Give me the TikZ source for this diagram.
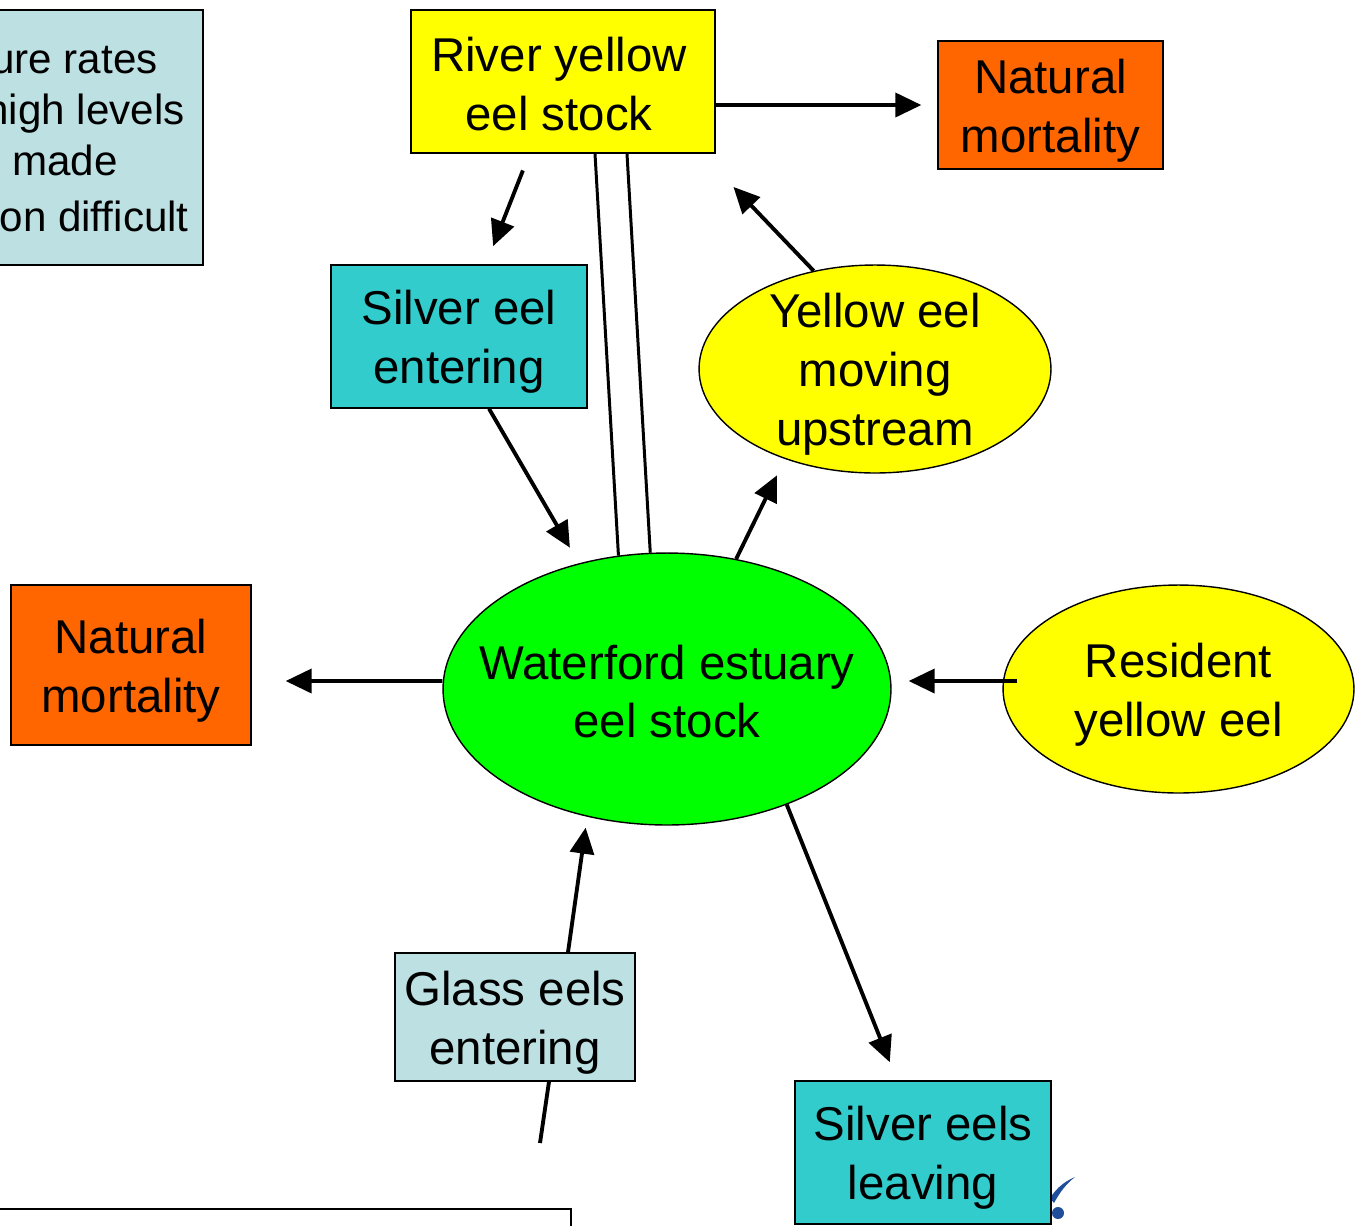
\documentclass[tikz,border=0pt]{standalone}
\usepackage{fontspec}
\setmainfont{Liberation Sans}
\usetikzlibrary{shapes.geometric, arrows.meta}

\definecolor{eelyellow}{HTML}{FFFF00}
\definecolor{mortorange}{HTML}{FF6600}
\definecolor{silverteal}{HTML}{33CCCC}
\definecolor{glasscyan}{HTML}{BDE0E3}
\definecolor{stockgreen}{HTML}{00FF00}
\definecolor{logoblue}{HTML}{1F4E9A}

\begin{document}
\begin{tikzpicture}[
    x=0.02cm, y=-0.02cm,
    >={Triangle[length=0.52cm, width=0.48cm]},
    every node/.style={font=\fontsize{27}{33.5}\selectfont},
    caption/.style={label={[align=center, yshift=-0.11cm]center:#1}},
    stockbox/.style={draw, rectangle, inner sep=0pt, line width=0.8pt},
    mortbox/.style={stockbox, fill=mortorange, minimum width=4.5cm, minimum height=2.56cm},
    silverbox/.style={stockbox, fill=silverteal, minimum width=5.12cm, minimum height=2.86cm},
    oval/.style={draw, ellipse, inner sep=0pt, line width=0.8pt},
    notetext/.style={anchor=base east, inner sep=0pt, font=\fontsize{24}{29}\selectfont},
    flow/.style={->, line width=2.2pt},
    link/.style={line width=1.7pt}
]
\useasboundingbox (0,0) rectangle (1355,1225);
\clip (0,0) rectangle (1355,1225);

% Note box (cut at the left edge)
\node[stockbox, fill=glasscyan, minimum width=4.46cm, minimum height=5.1cm] (note) at (91.5,137.5) {};
\node[notetext] (note1) at (158,73) {ure rates};
\node[notetext] (note2) at (185,124) {high levels};
\node[notetext] (note3) at (118,175) {made};
\node[notetext] (note4) at (189,231) {on difficult};

% Stocks
\node[stockbox, fill=eelyellow, minimum width=6.08cm, minimum height=2.86cm,
      label={[align=center, yshift=-0.05cm, xshift=-0.08cm]center:River yellow\\eel stock}] (river) at (563,81.5) {};
\node[oval, fill=stockgreen, minimum width=8.96cm, minimum height=5.44cm,
      label={[align=center, yshift=-0.05cm]center:Waterford estuary\\eel stock}] (estuary) at (667,689) {};

% Mortality
\node[mortbox, caption={Natural\\mortality}] (topmort) at (1050.5,105) {};
\node[mortbox, minimum width=4.8cm, minimum height=3.2cm, caption={Natural\\mortality}] (leftmort) at (131,665) {};

% Eel movements
\node[silverbox, caption={Silver eel\\entering}] (silverin) at (459,336.5) {};
\node[oval, fill=eelyellow, minimum width=7.04cm, minimum height=4.16cm,
      caption={Yellow eel\\moving\\upstream}] (yellowup) at (875,369) {};
\node[oval, fill=eelyellow, minimum width=7.02cm, minimum height=4.16cm,
      caption={Resident\\yellow eel}] (resident) at (1178.5,689) {};
\node[stockbox, fill=glasscyan, minimum width=4.8cm, minimum height=2.56cm,
      caption={Glass eels\\entering}] (glass) at (515,1017) {};

% Logo fragment and footer box
\fill[logoblue] (1050,1198) .. controls (1058,1186) and (1066,1181) .. (1075,1177)
    .. controls (1066,1184) and (1060,1192) .. (1054,1203) -- cycle;
\fill[logoblue] (1058,1213) circle (6);
\node[silverbox, caption={Silver eels\\leaving}] (leave) at (923,1152.5) {};
\node[draw, line width=0.8pt, fill=white, minimum width=11.82cm, minimum height=1.02cm] (footer) at (275.5,1234.5) {};

% Connectors
\draw[flow, shorten >=0.32cm] ([yshift=-0.47cm]river.east) -- (topmort.west);
\draw[flow, shorten <=0.36cm, shorten >=0.39cm] ([xshift=-0.67cm]river.south) -- ([xshift=0.54cm]silverin.north);
\draw[flow, shorten >=0.36cm] ([xshift=0.6cm]silverin.south) -- (estuary.125);
\draw[flow, shorten >=0.36cm] (estuary.62) -- (yellowup.225);
\draw[flow, shorten >=0.92cm] (yellowup.122) -- ([xshift=-0.28cm]river.south east);
\draw[link] ([xshift=0.64cm]river.south) -- (estuary.110);
\draw[link] ([xshift=1.28cm]river.south) -- (estuary.97);
\draw[flow, shorten >=0.68cm] ([yshift=0.16cm]estuary.west) -- ([yshift=-0.32cm]leftmort.east);
\draw[flow, shorten <=-0.3cm, shorten >=0.34cm] ([yshift=0.16cm]resident.west) -- ([yshift=0.16cm]estuary.east);
\draw[flow, shorten >=0.22cm] ([xshift=1.06cm]glass.north) -- (estuary.238);
\coordinate (glasstail) at (540,1143);
\draw[flow, -] ([xshift=0.68cm]glass.south) -- (glasstail);
\draw[flow, shorten >=0.39cm] (estuary.-44.5) -- ([xshift=-0.52cm]leave.north);

\end{tikzpicture}
\end{document}
